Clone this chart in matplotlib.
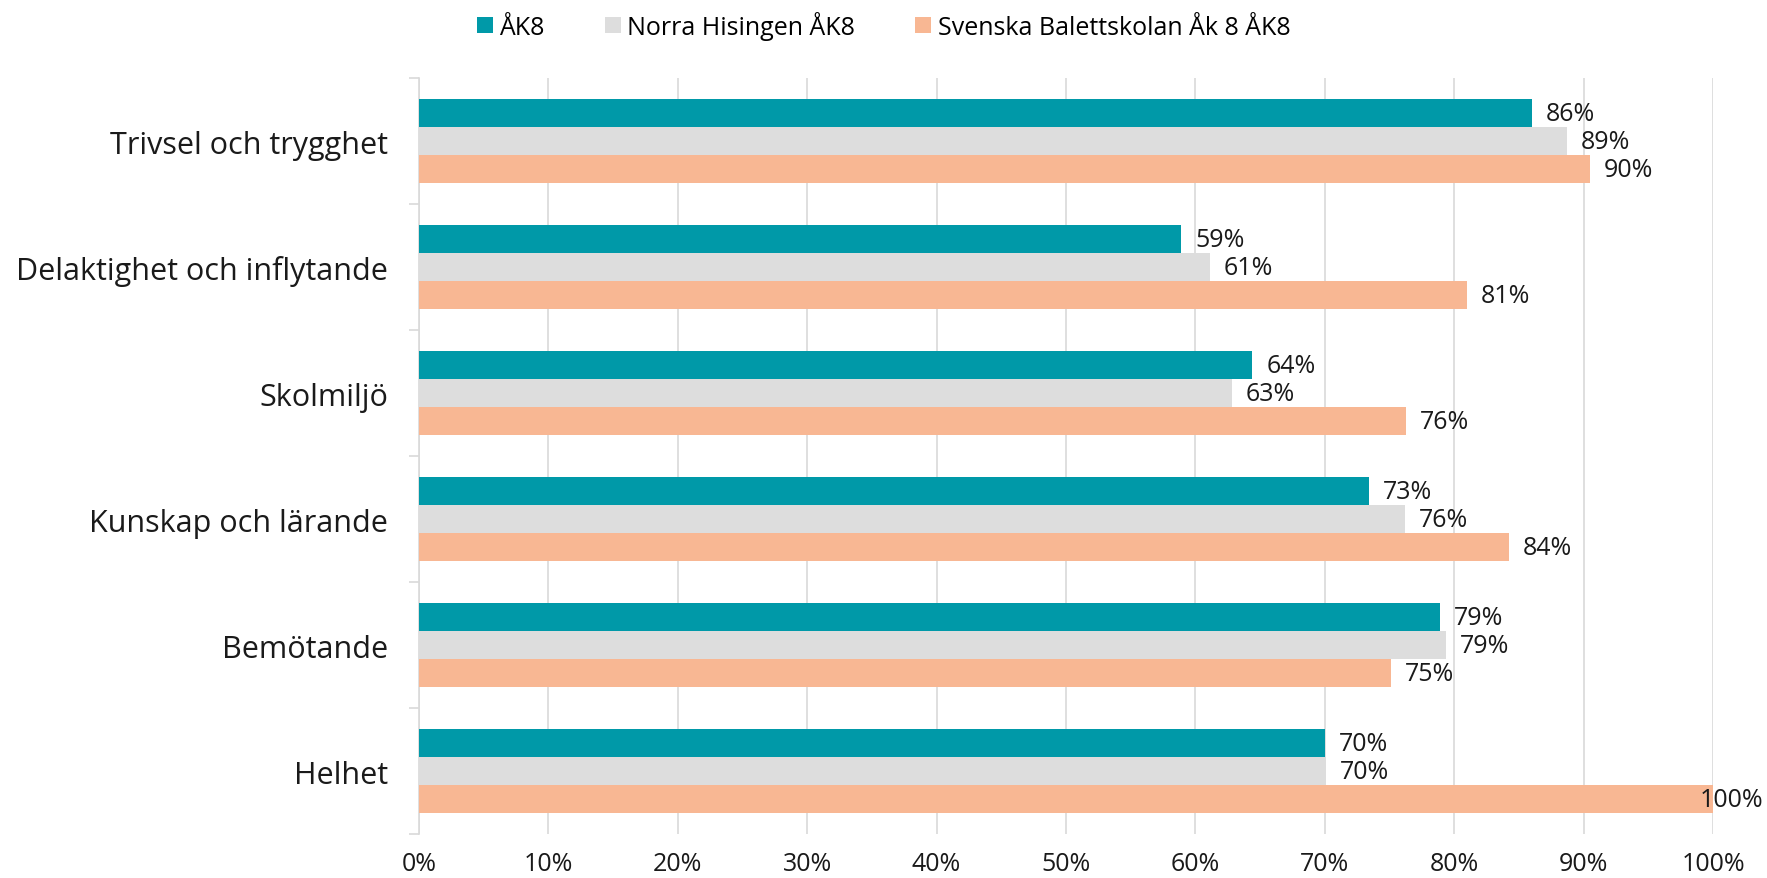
import matplotlib
matplotlib.use("Agg")
import matplotlib.pyplot as plt
from matplotlib.patches import Patch
import numpy as np

plt.rcParams["font.family"] = ["Open Sans", "DejaVu Sans"]

# Data (percent)
categories = [
    "Trivsel och trygghet",
    "Delaktighet och inflytande",
    "Skolmiljö",
    "Kunskap och lärande",
    "Bemötande",
    "Helhet",
]
series_names = ["ÅK8", "Norra Hisingen ÅK8", "Svenska Balettskolan Åk 8 ÅK8"]
ak8 = [86.0, 58.9, 64.4, 73.4, 78.9, 70.0]
norra_hisingen = [88.7, 61.1, 62.8, 76.2, 79.4, 70.1]
balettskolan = [90.5, 81.0, 76.3, 84.2, 75.1, 100.0]
x_ticks = [0, 10, 20, 30, 40, 50, 60, 70, 80, 90, 100]

colors = ["#0099A8", "#DDDDDD", "#F8B793"]
series = [ak8, norra_hisingen, balettskolan]

fig = plt.figure(figsize=(17.67, 8.79), dpi=100)
ax = fig.add_axes([0.237, 0.05, 0.7325, 0.86])

y = np.arange(len(categories))
bar_h = 0.222
offsets = [-bar_h, 0, bar_h]

for vals, col, off in zip(series, colors, offsets):
    bars = ax.barh(y + off, vals, height=bar_h, color=col, zorder=3)
    for b, v in zip(bars, vals):
        cy = b.get_y() + b.get_height() / 2
        # Excel pulls the 100% label back over the bar end
        dx = -10 if v >= 99 else 10
        ax.annotate(f"{v:.0f}%", (v, cy), xytext=(dx, 0), textcoords="offset points",
                    ha="left", va="center", fontsize=18, color="#1a1a1a", zorder=4,
                    annotation_clip=False)

ax.set_xlim(0, 100)
ax.set_ylim(len(categories) - 0.5, -0.5)
ax.set_xticks(x_ticks)
ax.set_xticklabels([f"{t}%" for t in x_ticks], fontsize=18)
ax.set_yticks(y)
ax.set_yticklabels(categories, fontsize=22)
ax.set_yticks(np.arange(len(categories) + 1) - 0.5, minor=True)

ax.tick_params(axis="x", length=0, pad=12, colors="#1a1a1a")
ax.tick_params(axis="y", which="major", length=0, pad=22, colors="#1a1a1a")
ax.tick_params(axis="y", which="minor", length=7, width=1.2, color="#d9d9d9")

ax.grid(axis="x", color="#d9d9d9", linewidth=1.2, zorder=0)
for s in ["top", "right", "bottom"]:
    ax.spines[s].set_visible(False)
ax.spines["left"].set_color("#d9d9d9")
ax.spines["left"].set_linewidth(1.2)

handles = [Patch(facecolor=c, edgecolor="none") for c in colors]
fig.legend(handles, series_names, loc="center", bbox_to_anchor=(0.5, 0.97), ncol=3,
           frameon=False, fontsize=18, handlelength=0.65, handleheight=0.65,
           handletextpad=0.25, columnspacing=2.4)

fig.savefig("out.png", dpi=100)
